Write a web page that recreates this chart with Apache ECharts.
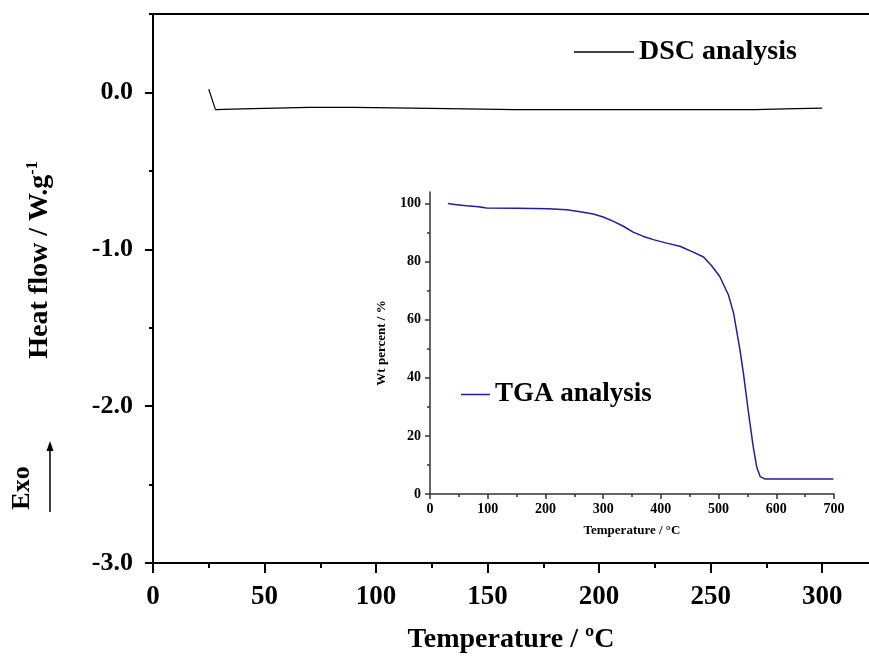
<!DOCTYPE html>
<html>
<head>
<meta charset="utf-8">
<script src="https://cdn.jsdelivr.net/npm/echarts@6/dist/echarts.min.js"></script>
<style>html,body{margin:0;padding:0;background:#fff;}#c{width:869px;height:660px;}</style>
</head>
<body>
<div id="c"></div>
<script>
// DSC (main chart)
const dscTemp = [25, 28, 40, 55, 70, 90, 116, 140, 162, 190, 220, 250, 270, 283, 300];
const dscHeat = [0.02, -0.11, -0.105, -0.1, -0.095, -0.095, -0.1, -0.105, -0.11, -0.11, -0.11, -0.11, -0.11, -0.105, -0.1];
// TGA (inset)
const tgaTemp = [31, 43, 63, 84, 98, 150, 205, 237, 260, 283, 300, 318, 335, 352, 370, 387, 410, 433, 456, 474, 488, 502, 517, 526, 531, 537, 543, 552, 560, 566, 572, 580, 640, 699];
const tgaWt = [100, 99.7, 99.3, 98.9, 98.5, 98.4, 98.2, 97.9, 97.2, 96.4, 95.4, 93.9, 92.2, 90.2, 88.7, 87.6, 86.4, 85.3, 83.3, 81.6, 78.6, 74.9, 68.6, 62.3, 56.6, 49.7, 41.6, 27.8, 16.3, 9.4, 6.0, 5.2, 5.2, 5.2];
// tick values
const mainXTicks = [0, 50, 100, 150, 200, 250, 300];
const mainXMinor = [25, 75, 125, 175, 225, 275];
const mainYTicks = [-3, -2, -1, 0];
const mainYMinor = [-2.5, -1.5, -0.5, 0.5];
const insetXTicks = [0, 100, 200, 300, 400, 500, 600, 700];
const insetXMinor = [50, 150, 250, 350, 450, 550, 650];
const insetYTicks = [0, 20, 40, 60, 80, 100];
const insetYMinor = [10, 30, 50, 70, 90];

const serif = '"Liberation Serif", "Times New Roman", serif';
const chart = echarts.init(document.getElementById('c'), null, {renderer: 'canvas'});
const blackLine = {show: true, onZero: false, lineStyle: {color: '#000', width: 2}};
const insetLine = {show: true, onZero: false, lineStyle: {color: '#333', width: 1.5}};
const noLine = {show: false, onZero: false};

chart.setOption({
  backgroundColor: '#fff',
  animation: false,
  grid: [
    {left: 153, top: 14, right: 0, bottom: 97},
    {left: 430, top: 192, right: 35, bottom: 166}
  ],
  legend: [
    {data: ['DSC analysis'], left: 569, top: 33, icon: 'rect', itemWidth: 60, itemHeight: 1.5, itemGap: 8,
     textStyle: {fontFamily: serif, fontWeight: 'bold', fontSize: 28, color: '#000'}},
    {data: ['TGA analysis'], left: 456, top: 376, icon: 'rect', itemWidth: 29, itemHeight: 1.5, itemGap: 7,
     textStyle: {fontFamily: serif, fontWeight: 'bold', fontSize: 27, color: '#000'}}
  ],
  xAxis: [
    {type: 'value', gridIndex: 0, position: 'bottom', min: 0, max: 321,
     axisLine: blackLine,
     axisTick: {show: true, customValues: mainXTicks, length: 10, lineStyle: {color: '#000', width: 2}},
     axisLabel: {show: true, customValues: mainXTicks, margin: 21, fontFamily: serif, fontWeight: 'bold', fontSize: 27, color: '#000'},
     splitLine: {show: false},
     name: 'Temperature / ºC', nameLocation: 'middle', nameGap: 63,
     nameTextStyle: {fontFamily: serif, fontWeight: 'bold', fontSize: 28, color: '#000'}},
    {type: 'value', gridIndex: 0, position: 'bottom', min: 0, max: 321,
     axisLine: noLine,
     axisTick: {show: true, customValues: mainXMinor, length: 5, lineStyle: {color: '#000', width: 2}},
     axisLabel: {show: false}, splitLine: {show: false}},
    {type: 'value', gridIndex: 0, position: 'top', min: 0, max: 321,
     axisLine: blackLine, axisTick: {show: false}, axisLabel: {show: false}, splitLine: {show: false}},
    {type: 'value', gridIndex: 1, position: 'bottom', min: 0, max: 700,
     axisLine: insetLine,
     axisTick: {show: true, customValues: insetXTicks, length: 5, lineStyle: {color: '#333', width: 1.5}},
     axisLabel: {show: true, customValues: insetXTicks, margin: 8, fontFamily: serif, fontWeight: 'bold', fontSize: 14, color: '#000'},
     splitLine: {show: false},
     name: 'Temperature / °C', nameLocation: 'middle', nameGap: 30,
     nameTextStyle: {fontFamily: serif, fontWeight: 'bold', fontSize: 13, color: '#000'}},
    {type: 'value', gridIndex: 1, position: 'bottom', min: 0, max: 700,
     axisLine: noLine,
     axisTick: {show: true, customValues: insetXMinor, length: 3, lineStyle: {color: '#333', width: 1.5}},
     axisLabel: {show: false}, splitLine: {show: false}}
  ],
  yAxis: [
    {type: 'value', gridIndex: 0, position: 'left', min: -3, max: 0.5,
     axisLine: blackLine,
     axisTick: {show: true, customValues: mainYTicks, length: 8, lineStyle: {color: '#000', width: 2}},
     axisLabel: {show: true, customValues: mainYTicks, margin: 20, formatter: v => v.toFixed(1),
       fontFamily: serif, fontWeight: 'bold', fontSize: 26, color: '#000'},
     splitLine: {show: false}},
    {type: 'value', gridIndex: 0, position: 'left', min: -3, max: 0.5,
     axisLine: noLine,
     axisTick: {show: true, customValues: mainYMinor, length: 4, lineStyle: {color: '#000', width: 2}},
     axisLabel: {show: false}, splitLine: {show: false}},
    {type: 'value', gridIndex: 1, position: 'left', min: 0, max: 104,
     axisLine: insetLine,
     axisTick: {show: true, customValues: insetYTicks, length: 5, lineStyle: {color: '#333', width: 1.5}},
     axisLabel: {show: true, customValues: insetYTicks, margin: 9, fontFamily: serif, fontWeight: 'bold', fontSize: 14, color: '#000'},
     splitLine: {show: false},
     name: 'Wt percent / %', nameLocation: 'middle', nameGap: 42, nameRotate: 90,
     nameTextStyle: {fontFamily: serif, fontWeight: 'bold', fontSize: 13, color: '#000'}},
    {type: 'value', gridIndex: 1, position: 'left', min: 0, max: 104,
     axisLine: noLine,
     axisTick: {show: true, customValues: insetYMinor, length: 3, lineStyle: {color: '#333', width: 1.5}},
     axisLabel: {show: false}, splitLine: {show: false}}
  ],
  series: [
    {name: 'DSC analysis', type: 'line', xAxisIndex: 0, yAxisIndex: 0, showSymbol: false, symbol: 'none',
     lineStyle: {color: '#000', width: 1.2}, itemStyle: {color: '#000'},
     data: dscTemp.map((t, i) => [t, dscHeat[i]])},
    {name: 'TGA analysis', type: 'line', xAxisIndex: 3, yAxisIndex: 2, showSymbol: false, symbol: 'none',
     lineStyle: {color: '#1f1f9e', width: 1.5}, itemStyle: {color: '#1f1f9e'},
     data: tgaTemp.map((t, i) => [t, tgaWt[i]])}
  ],
  graphic: [
    {type: 'text', x: 40, y: 260, rotation: Math.PI / 2,
     style: {text: 'Heat flow / W.g{sup|-1}', align: 'center', verticalAlign: 'middle',
       font: 'bold 28px ' + serif, fill: '#000',
       rich: {sup: {fontFamily: serif, fontWeight: 'bold', fontSize: 16, padding: [0, 0, 15, 0], fill: '#000'}}}},
    {type: 'text', x: 22, y: 488, rotation: Math.PI / 2,
     style: {text: 'Exo', align: 'center', verticalAlign: 'middle', font: 'bold 26px ' + serif, fill: '#000'}},
    {type: 'line', shape: {x1: 50, y1: 512, x2: 50, y2: 448}, style: {stroke: '#000', lineWidth: 1.5}},
    {type: 'polygon', shape: {points: [[50, 441], [46.5, 451], [53.5, 451]]}, style: {fill: '#000'}}
  ]
});
</script>
</body>
</html>
